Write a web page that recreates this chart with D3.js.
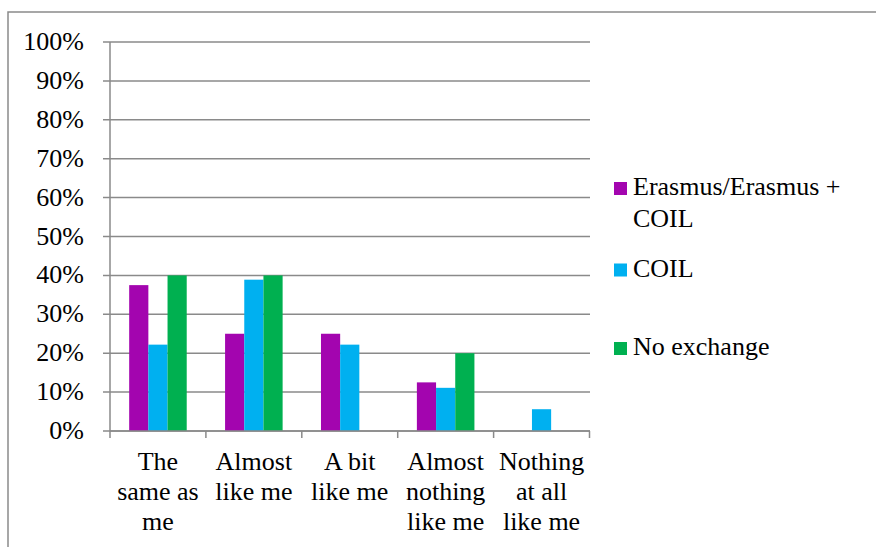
<!DOCTYPE html>
<html>
<head>
<meta charset="utf-8">
<script src="https://cdn.jsdelivr.net/npm/d3@7"></script>
</head>
<body style="margin:0">
<svg id="chart" width="876" height="547"></svg>
<script>
const categories = [
  ["The", "same as", "me"],
  ["Almost", "like me"],
  ["A bit", "like me"],
  ["Almost", "nothing", "like me"],
  ["Nothing", "at all", "like me"]
];
const categoryKeys = ["The same as me", "Almost like me", "A bit like me", "Almost nothing like me", "Nothing at all like me"];
const seriesNames = ["Erasmus/Erasmus + COIL", "COIL", "No exchange"];
const legendLines = [["Erasmus/Erasmus +", "COIL"], ["COIL"], ["No exchange"]];
const seriesColors = ["#A305AF", "#00B0F0", "#00B050"];
const erasmusValues = [0.375, 0.25, 0.25, 0.125, 0];
const coilValues = [0.222, 0.389, 0.222, 0.111, 0.056];
const noExchangeValues = [0.40, 0.40, 0, 0.20, 0];
const yTicks = [0, 0.1, 0.2, 0.3, 0.4, 0.5, 0.6, 0.7, 0.8, 0.9, 1.0];

const seriesValues = [erasmusValues, coilValues, noExchangeValues];
const svg = d3.select("#chart");
const gridColor = "#8a8a8a";
const fontSize = 26;
const fontFamily = "'Times New Roman'";

// outer frame
svg.append("path")
  .attr("d", "M8,547 L8,12 L876,12")
  .attr("fill", "none").attr("stroke", gridColor).attr("stroke-width", 1.5);

const x = d3.scaleBand().domain(categoryKeys).range([110, 589.5]).paddingInner(0).paddingOuter(0);
const xs = d3.scaleBand().domain(seriesNames).range([0, x.bandwidth()]).paddingInner(0).paddingOuter(1);
const y = d3.scaleLinear().domain([0, 1]).range([431, 42]);

// gridlines
svg.append("g").selectAll("line").data(yTicks).join("line")
  .attr("x1", 103).attr("x2", 590)
  .attr("y1", d => y(d)).attr("y2", d => y(d))
  .attr("stroke", gridColor).attr("stroke-width", 1.5);

// y tick labels
svg.append("g").selectAll("text").data(yTicks).join("text")
  .attr("x", 84).attr("y", d => y(d) + 8)
  .attr("text-anchor", "end")
  .attr("font-family", fontFamily)
  .attr("font-size", fontSize)
  .text(d => d3.format(".0%")(d));

// bars
const barData = [];
seriesValues.forEach((vals, si) => {
  vals.forEach((v, ci) => {
    barData.push({ s: seriesNames[si], c: categoryKeys[ci], v, color: seriesColors[si] });
  });
});
svg.append("g").selectAll("rect").data(barData.filter(d => d.v > 0)).join("rect")
  .attr("x", d => x(d.c) + xs(d.s))
  .attr("width", xs.bandwidth())
  .attr("y", d => y(d.v))
  .attr("height", d => y(0) - y(d.v))
  .attr("fill", d => d.color);

// y axis line
svg.append("line").attr("x1", 110).attr("x2", 110).attr("y1", 42).attr("y2", 431)
  .attr("stroke", gridColor).attr("stroke-width", 1.5);
// x axis line
svg.append("line").attr("x1", 110).attr("x2", 590).attr("y1", 431).attr("y2", 431)
  .attr("stroke", gridColor).attr("stroke-width", 1.5);
// x ticks at category boundaries
const boundaries = categoryKeys.map(c => x(c)).concat([x.range()[1]]);
svg.append("g").selectAll("line").data(boundaries).join("line")
  .attr("x1", d => d).attr("x2", d => d).attr("y1", 431).attr("y2", 438)
  .attr("stroke", gridColor).attr("stroke-width", 1.5);

// x labels (one text per line)
const xlData = [];
categories.forEach((lines, i) => lines.forEach((t, j) => xlData.push({ i, j, t })));
svg.append("g").selectAll("text").data(xlData).join("text")
  .attr("text-anchor", "middle")
  .attr("font-family", fontFamily)
  .attr("font-size", fontSize)
  .attr("x", d => x(categoryKeys[d.i]) + x.bandwidth() / 2)
  .attr("y", d => 470 + d.j * 30)
  .text(d => d.t);

// legend
const legendBaselines = [195, 276.5, 355];
const legendData = [];
legendLines.forEach((lines, i) => lines.forEach((t, j) => legendData.push({ i, j, t })));
svg.append("g").selectAll("rect").data(seriesNames).join("rect")
  .attr("x", 614).attr("y", (d, i) => legendBaselines[i] - 13)
  .attr("width", 13).attr("height", 13)
  .attr("fill", (d, i) => seriesColors[i]);
svg.append("g").selectAll("text").data(legendData).join("text")
  .attr("font-family", fontFamily)
  .attr("font-size", fontSize)
  .attr("x", 633)
  .attr("y", d => legendBaselines[d.i] + d.j * 31.5)
  .text(d => d.t);
</script>
</body>
</html>
